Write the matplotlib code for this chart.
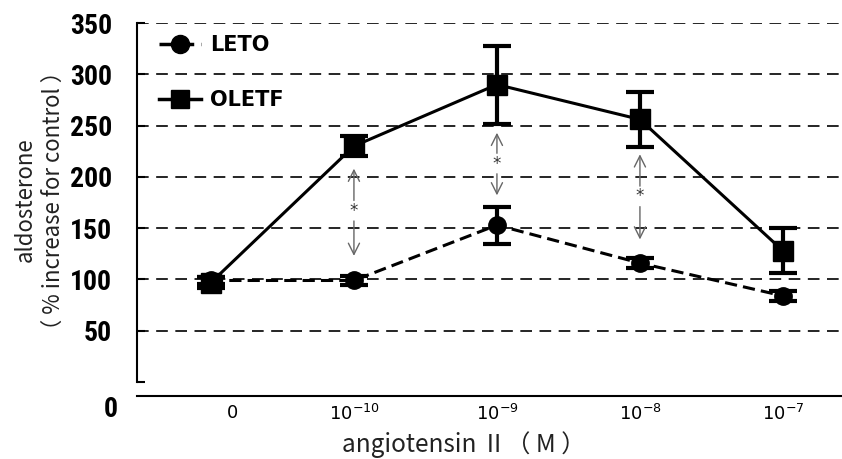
import matplotlib
matplotlib.use("Agg")
import matplotlib.pyplot as plt
from matplotlib.lines import Line2D
from matplotlib import font_manager

# ---- data ----
conc_labels = ["0", r"$10^{-10}$", r"$10^{-9}$", r"$10^{-8}$", r"$10^{-7}$"]
leto_mean = [99, 99, 153, 116, 84]
leto_err = [3, 4, 18, 5, 5]
oletf_mean = [97, 230, 290, 256, 128]
oletf_err = [5, 10, 38, 27, 22]
# significance markers: (x index, arrow top, arrow bottom, star level)
sig_idx = [1, 2, 3]
sig_top = [208, 243, 222]
sig_bottom = [123, 182, 139]
sig_star = [167, 213, 181]
y_ticks = [0, 50, 100, 150, 200, 250, 300, 350]

available = {f.name for f in font_manager.fontManager.ttflist}
narrow = "DejaVu Sans"
for cand in ["Liberation Sans Narrow", "Roboto Condensed", "Arial Narrow",
             "Open Sans Condensed", "Liberation Sans"]:
    if cand in available:
        narrow = cand
        break

W, H = 842, 459
fig = plt.figure(figsize=(W / 100, H / 100), dpi=100)
ax = fig.add_axes([137 / W, 1 - 396 / H, 705 / W, (396 - 23) / H])

x = list(range(len(conc_labels)))

ax.errorbar(x, leto_mean, yerr=leto_err, color="black", lw=2.2, ls=(0, (4, 2)),
            marker="o", ms=12.5, elinewidth=3, capsize=10, capthick=3, zorder=4)
ax.errorbar(x, oletf_mean, yerr=oletf_err, color="black", lw=2.2, ls="-",
            marker="s", ms=14.5, elinewidth=3, capsize=10, capthick=3, zorder=5)

# significance arrows
for i, t, b, s in zip(sig_idx, sig_top, sig_bottom, sig_star):
    ax.annotate("", xy=(i, t), xytext=(i, s + 10),
                arrowprops=dict(arrowstyle="->", color="#666666", lw=1.0,
                                mutation_scale=20, shrinkA=0, shrinkB=0))
    ax.annotate("", xy=(i, b), xytext=(i, s - 10),
                arrowprops=dict(arrowstyle="->", color="#666666", lw=1.0,
                                mutation_scale=20, shrinkA=0, shrinkB=0))
    ax.text(i, s, "*", ha="center", va="center", fontsize=12, color="#333333")

ax.set_xlim(-0.517, 4.413)
ax.set_ylim(-13.6, 350)

# grid
for v in y_ticks[1:]:
    ax.axhline(v, color="black", lw=1.2, ls=(0, (7, 4.5)), zorder=1)

ax.spines["top"].set_visible(False)
ax.spines["right"].set_visible(False)
ax.spines["left"].set_bounds(0, 350)
ax.spines["left"].set_linewidth(1.5)
ax.spines["bottom"].set_linewidth(1.5)

ax.set_yticks(y_ticks)
ax.set_yticklabels([""] + [str(v) for v in y_ticks[1:]],
                   fontfamily=narrow, fontweight="bold", fontsize=20)
ax.tick_params(axis="y", direction="in", length=6, width=1.5, pad=18)
ax.text(-0.517 - 19 / 143, -27, "0", ha="right", va="center",
        fontfamily=narrow, fontweight="bold", fontsize=20, clip_on=False)

tick_pos = [0.15, 1, 2, 3, 4]
ax.set_xticks(tick_pos)
ax.set_xticklabels(conc_labels, fontsize=13)
ax.tick_params(axis="x", length=0, pad=6)

# axis labels
cjk = ["Noto Sans CJK JP", "DejaVu Sans"]
fig.text(25 / W, 1 - 200 / H, "aldosterone", rotation=90, ha="center", va="center",
         fontsize=16, color="#222222", family=cjk)
fig.text(53 / W, 1 - 200 / H, "（ % increase for control ）", rotation=90, ha="center",
         va="center", fontsize=16, color="#222222", family=cjk)
fig.text(464 / W, 1 - 445 / H, "angiotensin Ⅱ（ M ）", ha="center", va="center",
         fontsize=17.5, color="#222222", family=cjk)

# legend
h1 = Line2D([], [], color="black", lw=2.5, ls=(0, (4, 2)), marker="o", ms=13)
h2 = Line2D([], [], color="black", lw=2.5, ls="-", marker="s", ms=13)
leg = ax.legend([h1, h2], ["LETO", "OLETF"], loc="upper left",
                bbox_to_anchor=(22 / 705, 1 - 12 / 373), frameon=False,
                prop=dict(family="DejaVu Sans", weight="bold", size=15),
                handlelength=2.0, handletextpad=0.45, labelspacing=1.7,
                borderpad=0, borderaxespad=0)
leg.set_zorder(10)

fig.savefig("out.png", dpi=100)
